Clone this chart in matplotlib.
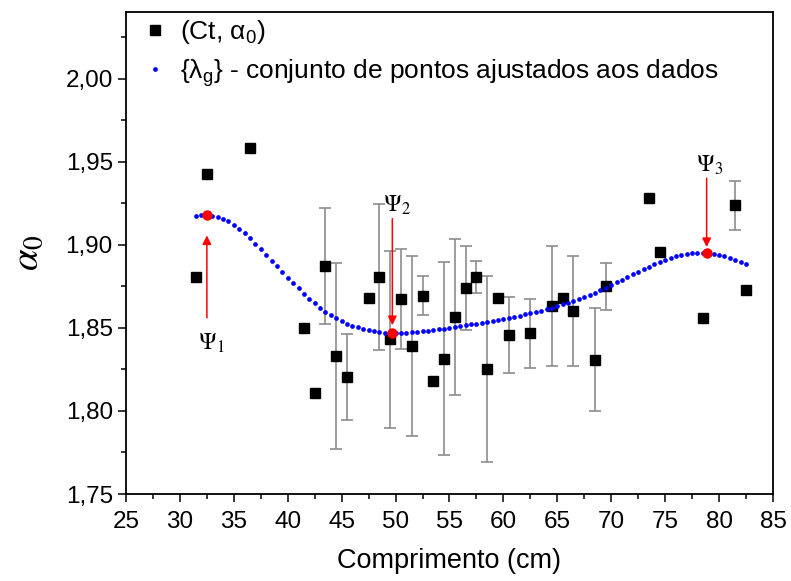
import numpy as np
import matplotlib
matplotlib.use("Agg")
import matplotlib.pyplot as plt
from matplotlib.ticker import MultipleLocator, FuncFormatter
from matplotlib.font_manager import FontProperties

plt.rcParams['font.family'] = ['Liberation Sans', 'DejaVu Sans']
plt.rcParams['mathtext.fontset'] = 'custom'
plt.rcParams['mathtext.rm'] = 'Liberation Sans'
plt.rcParams['mathtext.it'] = 'Liberation Sans'

# pontos medidos (Ct, alpha_0)
ct = [31.5, 32.5, 36.5, 41.5, 42.5, 43.5, 44.5, 45.5, 47.5, 48.5, 49.5,
      50.5, 51.5, 52.5, 53.5, 54.5, 55.5, 56.5, 57.5, 58.5, 59.5, 60.5,
      62.5, 64.5, 65.5, 66.5, 68.5, 69.5, 73.5, 74.5, 78.5, 81.5, 82.5]
alpha0 = [1.8806, 1.9427, 1.9580, 1.8496, 1.8110, 1.8870, 1.8330, 1.8205,
          1.8680, 1.8806, 1.8430, 1.8674, 1.8390, 1.8694, 1.8180, 1.8313,
          1.8564, 1.8740, 1.8806, 1.8250, 1.8680, 1.8456, 1.8466, 1.8632,
          1.8680, 1.8600, 1.8307, 1.8750, 1.9280, 1.8957, 1.8560, 1.9237,
          1.8726]
erro = [0, 0, 0, 0, 0, 0.035, 0.056, 0.026, 0, 0.044, 0.053, 0.030,
        0.054, 0.0115, 0, 0.058, 0.047, 0.0255, 0.0096, 0.056, 0, 0.023,
        0.0205, 0.036, 0, 0.033, 0.031, 0.014, 0, 0, 0, 0.0146, 0]

# conjunto de pontos ajustados {lambda_g}
fit_x = [31.5, 32.0, 32.5, 33.0, 33.5, 34.0, 34.5, 35.0, 35.5, 36.0,
         36.5, 37.0, 37.5, 38.0, 38.5, 39.0, 39.5, 40.0, 40.5, 41.0,
         41.5, 42.0, 42.5, 43.0, 43.5, 44.0, 44.5, 45.0, 45.5, 46.0,
         46.5, 47.0, 47.5, 48.0, 48.5, 49.0, 49.5, 50.0, 50.5, 51.0,
         51.5, 52.0, 52.5, 53.0, 53.5, 54.0, 54.5, 55.0, 55.5, 56.0,
         56.5, 57.0, 57.5, 58.0, 58.5, 59.0, 59.5, 60.0, 60.5, 61.0,
         61.5, 62.0, 62.5, 63.0, 63.5, 64.0, 64.5, 65.0, 65.5, 66.0,
         66.5, 67.0, 67.5, 68.0, 68.5, 69.0, 69.5, 70.0, 70.5, 71.0,
         71.5, 72.0, 72.5, 73.0, 73.5, 74.0, 74.5, 75.0, 75.5, 76.0,
         76.5, 77.0, 77.5, 78.0, 78.5, 79.0, 79.5, 80.0, 80.5, 81.0,
         81.5, 82.0, 82.5]
fit_y = [1.9170, 1.9177, 1.9180, 1.9175, 1.9168, 1.9155, 1.9140, 1.9120, 1.9095, 1.9068,
         1.9038, 1.9005, 1.8973, 1.8940, 1.8905, 1.8870, 1.8837, 1.8802, 1.8769, 1.8737,
         1.8705, 1.8675, 1.8647, 1.8620, 1.8597, 1.8577, 1.8558, 1.8540, 1.8525, 1.8512,
         1.8502, 1.8493, 1.8486, 1.8480, 1.8475, 1.8471, 1.8469, 1.8468, 1.8468, 1.8470,
         1.8472, 1.8475, 1.8478, 1.8482, 1.8486, 1.8490, 1.8495, 1.8500, 1.8505, 1.8510,
         1.8515, 1.8520, 1.8525, 1.8530, 1.8536, 1.8542, 1.8548, 1.8554, 1.8560, 1.8567,
         1.8574, 1.8581, 1.8588, 1.8595, 1.8603, 1.8612, 1.8622, 1.8632, 1.8642, 1.8651,
         1.8661, 1.8673, 1.8686, 1.8698, 1.8711, 1.8726, 1.8742, 1.8757, 1.8773, 1.8789,
         1.8806, 1.8822, 1.8838, 1.8853, 1.8868, 1.8882, 1.8896, 1.8909, 1.8920, 1.8930,
         1.8938, 1.8944, 1.8948, 1.8950, 1.8951, 1.8949, 1.8945, 1.8939, 1.8931, 1.8922,
         1.8911, 1.8899, 1.8886]

# pontos criticos Psi_1, Psi_2, Psi_3
psi_x = [32.5, 49.7, 78.85]
psi_y = [1.9180, 1.8468, 1.8948]
psi_nomes = [r'$\Psi_1$', r'$\Psi_2$', r'$\Psi_3$']
seta_ini = [1.856, 1.9157, 1.940]   # inicio das setas (y)
seta_fim = [1.9056, 1.8516, 1.8986]  # ponta das setas (y)
texto_y = [1.8408, 1.9237, 1.9477]
texto_dx = [0.4, 0.45, 0.25]

fig = plt.figure(figsize=(7.91, 5.81), dpi=100)
ax = fig.add_axes([0.1593, 0.1497, 0.8179, 0.8296])

ct_a = np.array(ct)
al_a = np.array(alpha0)
er_a = np.array(erro)
m = er_a > 0
ax.errorbar(ct_a[m], al_a[m], yerr=er_a[m], fmt='none', ecolor='#8c8c8c',
            elinewidth=1.2, capsize=4.5, capthick=1.2, zorder=2)
ax.plot(ct, alpha0, 's', color='black', ms=7.8, zorder=3, label=r'(Ct, $\mathrm{\alpha}_0$)')
ax.plot(fit_x, fit_y, 'o', color='#0000ff', ms=3.4, mew=0, zorder=4,
        label=r'{$\mathrm{\lambda}_g$} - conjunto de pontos ajustados aos dados')
ax.plot(psi_x, psi_y, 'o', color='#ff0000', ms=7.5, mew=0, zorder=5)

for i in range(3):
    ax.annotate('', xy=(psi_x[i], seta_fim[i]), xytext=(psi_x[i], seta_ini[i]),
                arrowprops=dict(arrowstyle='-|>', color='#ff0000', lw=1.1,
                                mutation_scale=13, shrinkA=0, shrinkB=0), zorder=6)
    ax.text(psi_x[i] + texto_dx[i], texto_y[i], psi_nomes[i], ha='center', va='center',
            fontsize=17, math_fontfamily='stix')

ax.set_xlim(25, 85)
ax.set_ylim(1.75, 2.04)
ax.xaxis.set_major_locator(MultipleLocator(5))
ax.xaxis.set_minor_locator(MultipleLocator(2.5))
ax.yaxis.set_major_locator(MultipleLocator(0.05))
ax.yaxis.set_minor_locator(MultipleLocator(0.025))
ax.yaxis.set_major_formatter(FuncFormatter(lambda v, p: ('%.2f' % v).replace('.', ',')))
ax.tick_params(which='major', direction='out', length=6, width=1.1, labelsize=17.5)
ax.tick_params(axis='x', which='major', pad=6)
ax.tick_params(which='minor', direction='out', length=3.5, width=1.1)
for s in ax.spines.values():
    s.set_linewidth(1.3)

ax.set_xlabel('Comprimento (cm)', fontsize=19.5, labelpad=11)
ax.set_ylabel(r'$\alpha_0$', fontsize=28, math_fontfamily='stix', labelpad=14)

ax.legend(loc='upper left', bbox_to_anchor=(0.008, 1.01), frameon=False,
          handletextpad=0.45, labelspacing=0.42, borderaxespad=0.0, handlelength=1.0,
          prop=FontProperties(family='Liberation Sans', size=19))

fig.savefig('out.png', dpi=100)
